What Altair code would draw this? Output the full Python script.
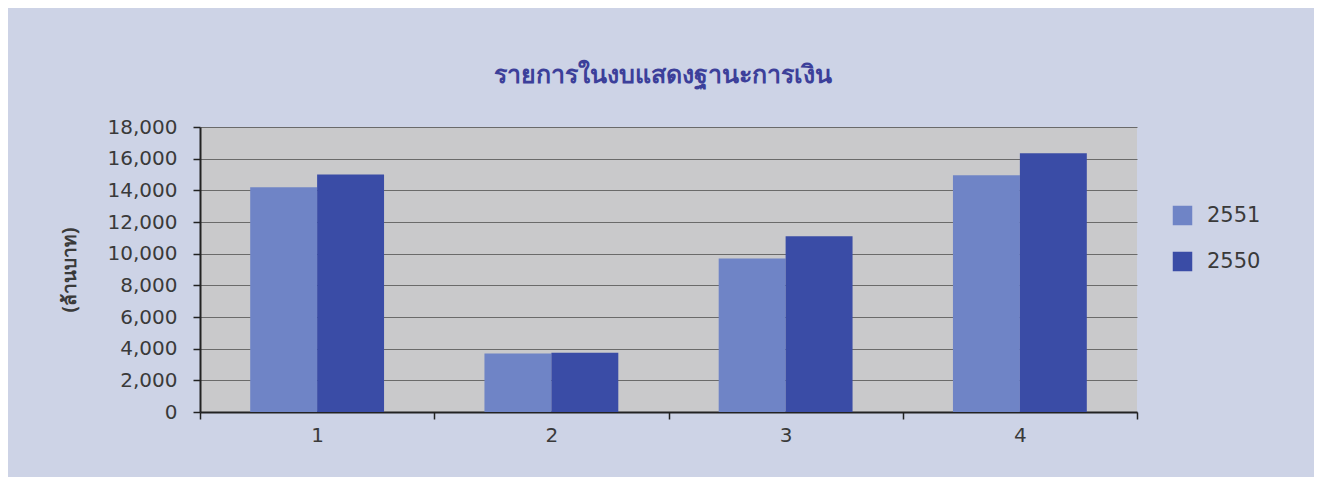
import altair as alt
import pandas as pd

categories = ["1", "2", "3", "4"]
series_names = ["2551", "2550"]
values_2551 = [14200, 3700, 9700, 14950]
values_2550 = [15000, 3750, 11100, 16350]

rows = []
for c, a, b in zip(categories, values_2551, values_2550):
    rows.append({"cat": c, "year": "2551", "value": a})
    rows.append({"cat": c, "year": "2550", "value": b})
df = pd.DataFrame(rows)

LBL_FONT = "DejaVu Sans"

chart = alt.Chart(df).mark_bar().encode(
    x=alt.X("cat:N", sort=categories,
            scale=alt.Scale(paddingInner=0, paddingOuter=0),
            axis=alt.Axis(title=None, labelAngle=0, tickBand="extent",
                          labelFontSize=20, labelColor="#3a3a3a",
                          labelFont=LBL_FONT, labelPadding=6,
                          tickSize=7, tickColor="#222", tickWidth=1.5,
                          domainColor="#222", domainWidth=2, grid=False)),
    xOffset=alt.XOffset("year:N", sort=series_names,
                        scale=alt.Scale(paddingInner=0, paddingOuter=0.75)),
    y=alt.Y("value:Q", scale=alt.Scale(domain=[0, 18000], nice=False),
            axis=alt.Axis(title="(ล้านบาท)", format=",.0f", values=list(range(0, 18001, 2000)),
                          labelFontSize=20, labelColor="#3a3a3a",
                          labelFont=LBL_FONT, labelPadding=16,
                          tickSize=7, tickColor="#222", tickWidth=1.5,
                          domainColor="#222", domainWidth=2,
                          gridColor="#6a6a6a", gridWidth=1,
                          titleFont="Noto Sans", titleFontSize=19, titleFontWeight="bold",
                          titleColor="#3a3a3a", titlePadding=28)),
    color=alt.Color("year:N", sort=series_names,
                    scale=alt.Scale(domain=series_names, range=["#6f84c6", "#3a4ca6"]),
                    legend=alt.Legend(title=None, orient="none", legendX=972, legendY=78,
                                      symbolType="square", symbolSize=380,
                                      symbolStrokeWidth=0, labelFontSize=21,
                                      labelFont=LBL_FONT, labelColor="#3a3a3a",
                                      rowPadding=24, labelOffset=14)),
).properties(
    width=937, height=285,
    title=alt.TitleParams("รายการในงบแสดงฐานะการเงิน", fontSize=25, font="Noto Sans",
                          fontWeight="bold", color="#3c3f9a", anchor="middle",
                          offset=29, dx=-6),
    autosize=alt.AutoSizeParams(type="none"),
    padding={"left": 192, "top": 119, "right": 177, "bottom": 65},
    background="#cdd3e6",
).configure_view(fill="#c9c9cb", stroke=None)

chart.save("out.html", embed_options={"renderer": "svg", "actions": False})
